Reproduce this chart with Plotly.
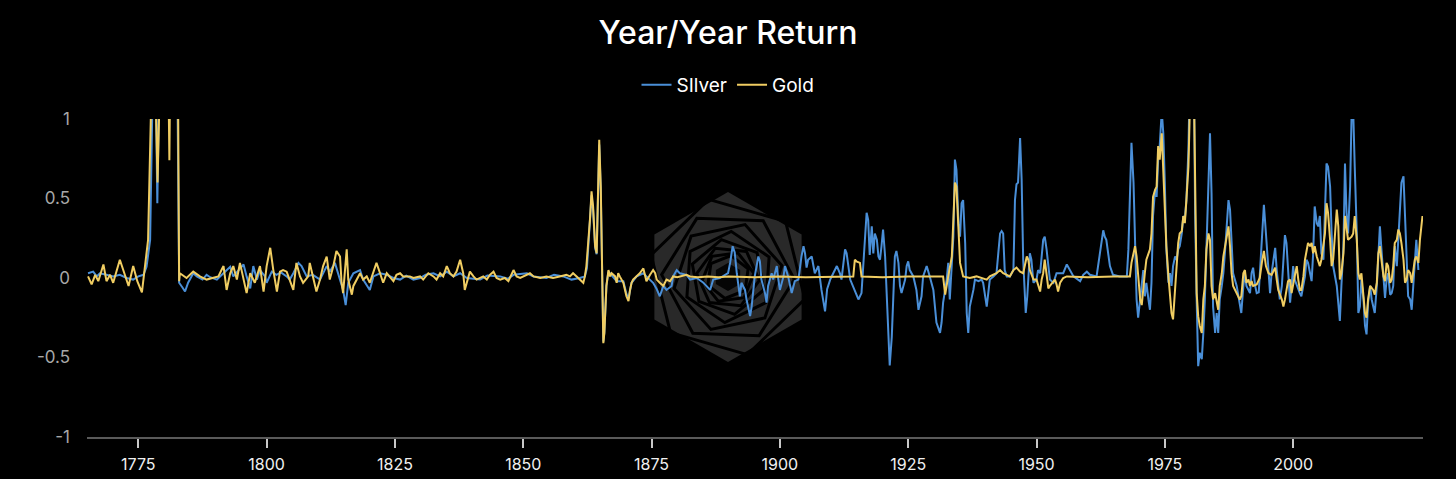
import math
import plotly.graph_objects as go

# ---- data: (year, year-over-year return) ----
silver_pts = [
    (1765.2, 0.03), (1766.2, 0.04), (1766.9, 0.01), (1767.5, 0.03), (1768.8, 0.02), (1770.1, 0.01),
    (1771.4, 0.02), (1772.7, 0.0), (1774.0, -0.01), (1775.0, 0.01), (1776.0, 0.02), (1776.6, 0.07),
    (1777.3, 0.24), (1777.9, 1.1), (1778.2, 2.0), (1778.45, 1.1), (1778.7, 0.47), (1779.0, 1.1),
    (1779.5, 2.0), (1782.4, 2.0), (1782.7, 1.1), (1782.95, -0.03), (1783.6, -0.06), (1784.1, -0.085),
    (1784.7, -0.03), (1785.7, 0.03), (1786.4, 0.01), (1787.5, -0.01), (1788.3, 0.02), (1789.0, 0.005),
    (1790.3, -0.01), (1791.6, 0.03), (1792.9, 0.07), (1793.5, 0.01), (1795.5, 0.085), (1796.1, 0.01),
    (1796.8, -0.065), (1797.4, 0.075), (1798.1, -0.01), (1798.7, 0.05), (1799.7, 0.01), (1800.0, -0.03),
    (1801.0, 0.04), (1801.9, 0.02), (1802.8, 0.035), (1803.9, 0.01), (1804.5, -0.01), (1805.2, 0.03),
    (1806.2, 0.095), (1806.8, 0.075), (1807.8, 0.01), (1809.0, 0.02), (1810.4, -0.01), (1811.7, 0.075),
    (1812.3, 0.04), (1813.3, 0.095), (1814.3, -0.01), (1814.9, -0.075), (1815.4, -0.17), (1815.9, -0.03),
    (1816.9, 0.03), (1818.2, 0.05), (1818.8, -0.01), (1820.1, -0.075), (1820.8, 0.01), (1822.1, 0.03),
    (1823.4, 0.02), (1824.7, 0.0), (1826.0, -0.01), (1827.2, 0.015), (1828.6, -0.01), (1829.9, 0.0),
    (1831.0, 0.02), (1832.5, 0.03), (1833.8, 0.01), (1835.1, 0.04), (1836.4, 0.01), (1837.7, 0.03),
    (1839.0, 0.0), (1841.6, -0.01), (1843.0, 0.015), (1845.5, 0.01), (1847.0, -0.005), (1848.1, 0.02),
    (1850.7, 0.03), (1852.0, 0.01), (1854.5, 0.0), (1856.0, 0.02), (1857.8, 0.01), (1859.4, -0.01),
    (1861.0, 0.0), (1862.0, 0.01), (1862.4, 0.06), (1863.0, 0.35), (1863.3, 0.52), (1863.6, 0.43),
    (1864.0, 0.19), (1864.3, 0.15), (1864.6, 0.55), (1864.8, 0.84), (1865.1, 0.55), (1865.3, 0.04),
    (1865.6, -0.4), (1865.8, -0.34), (1866.2, -0.05), (1866.6, 0.04), (1867.2, 0.02), (1868.2, -0.02),
    (1869.5, -0.02), (1870.1, -0.1), (1870.5, -0.13), (1871.1, -0.03), (1872.1, 0.01), (1873.4, 0.03),
    (1874.0, 0.01), (1875.3, -0.03), (1876.0, -0.07), (1876.6, -0.115), (1877.3, -0.05), (1877.9, -0.075),
    (1878.9, -0.05), (1879.2, 0.01), (1879.9, 0.05), (1880.5, 0.03), (1881.8, 0.02), (1882.5, -0.01),
    (1883.8, 0.0), (1885.1, -0.03), (1886.4, -0.075), (1887.0, -0.01), (1888.3, 0.0), (1889.9, 0.03),
    (1890.3, 0.095), (1890.8, 0.2), (1891.2, 0.16), (1891.6, 0.03), (1892.2, -0.115), (1892.5, -0.03),
    (1893.2, -0.075), (1893.5, -0.135), (1894.2, -0.24), (1894.5, -0.18), (1895.1, 0.01), (1895.8, 0.135),
    (1896.1, 0.105), (1896.4, -0.01), (1897.1, -0.095), (1897.4, -0.155), (1897.7, -0.05), (1898.4, 0.03),
    (1898.7, -0.01), (1899.4, 0.075), (1899.7, -0.01), (1900.0, -0.075), (1900.7, 0.01), (1901.0, 0.075),
    (1901.6, 0.01), (1902.3, -0.095), (1902.9, -0.02), (1903.6, -0.01), (1904.2, 0.135), (1904.6, 0.2),
    (1904.9, 0.155), (1905.2, 0.065), (1905.5, 0.115), (1906.2, 0.135), (1906.8, 0.03), (1907.5, 0.075),
    (1908.1, -0.075), (1908.8, -0.21), (1909.2, -0.07), (1909.8, -0.01), (1910.4, 0.03), (1911.1, 0.075),
    (1911.7, 0.03), (1912.0, -0.01), (1912.7, 0.18), (1913.0, 0.155), (1913.7, -0.01), (1914.6, -0.075),
    (1915.3, -0.135), (1915.9, -0.095), (1916.3, 0.095), (1916.9, 0.41), (1917.2, 0.365), (1917.5, 0.145),
    (1917.9, 0.325), (1918.2, 0.155), (1918.5, 0.28), (1918.9, 0.24), (1919.2, 0.135), (1919.5, 0.115),
    (1919.8, 0.2), (1920.1, 0.305), (1920.5, 0.135), (1920.8, -0.115), (1921.1, -0.41), (1921.4, -0.55),
    (1921.8, -0.37), (1922.1, -0.115), (1922.4, 0.135), (1922.7, 0.17), (1923.1, 0.095), (1923.4, -0.05),
    (1923.7, -0.095), (1924.4, -0.01), (1924.7, 0.075), (1925.0, 0.105), (1925.3, 0.05), (1926.0, 0.01),
    (1926.6, -0.075), (1927.0, -0.2), (1927.6, -0.115), (1927.9, 0.01), (1928.6, 0.075), (1929.2, 0.01),
    (1929.9, -0.075), (1930.5, -0.28), (1931.2, -0.345), (1931.5, -0.28), (1931.8, -0.155), (1932.5, -0.01),
    (1932.8, 0.095), (1933.1, -0.135), (1933.8, 0.26), (1934.1, 0.745), (1934.4, 0.68), (1934.8, 0.345),
    (1935.1, 0.26), (1935.4, 0.47), (1935.7, 0.49), (1936.1, 0.22), (1936.4, -0.22), (1936.7, -0.345),
    (1937.0, -0.18), (1937.7, -0.075), (1938.0, -0.01), (1938.7, -0.02), (1939.3, -0.01), (1939.6, -0.03),
    (1940.0, -0.135), (1940.3, -0.18), (1940.6, -0.095), (1940.9, -0.01), (1941.6, 0.01), (1942.2, 0.03),
    (1942.9, 0.28), (1943.2, 0.295), (1943.5, 0.28), (1943.8, 0.05), (1944.2, 0.01), (1944.8, 0.01),
    (1945.5, 0.05), (1945.8, 0.49), (1946.1, 0.59), (1946.4, 0.6), (1946.8, 0.88), (1947.1, 0.62),
    (1947.4, 0.115), (1947.7, -0.135), (1947.9, -0.22), (1948.2, -0.115), (1948.7, 0.155), (1949.0, 0.115),
    (1949.4, -0.03), (1950.0, -0.01), (1950.3, 0.05), (1950.7, 0.03), (1951.3, 0.24), (1951.6, 0.26),
    (1951.96, 0.18), (1952.6, -0.01), (1953.3, -0.03), (1953.9, 0.03), (1955.2, 0.03), (1955.9, 0.085),
    (1956.5, 0.05), (1957.2, 0.01), (1958.5, -0.02), (1959.1, 0.02), (1959.8, 0.04), (1960.4, 0.02),
    (1961.7, 0.01), (1962.0, 0.075), (1962.4, 0.155), (1963.0, 0.3), (1963.3, 0.26), (1963.6, 0.24),
    (1964.3, 0.075), (1964.9, 0.02), (1966.2, 0.01), (1967.6, 0.01), (1967.9, 0.18), (1968.2, 0.6),
    (1968.5, 0.85), (1968.9, 0.6), (1969.2, 0.18), (1969.5, -0.135), (1969.8, -0.25), (1970.2, -0.135),
    (1970.5, -0.01), (1970.8, 0.05), (1971.1, -0.115), (1971.4, -0.03), (1971.8, -0.135), (1972.1, -0.2),
    (1972.4, -0.03), (1972.7, 0.39), (1973.1, 0.555), (1973.4, 0.51), (1973.7, 0.745), (1974.0, 0.83),
    (1974.4, 1.05), (1974.7, 0.91), (1975.0, 0.6), (1975.3, 0.18), (1975.7, -0.03), (1976.0, 0.03),
    (1976.3, -0.05), (1976.6, 0.075), (1977.0, 0.135), (1977.3, 0.115), (1977.6, 0.18), (1977.9, 0.2),
    (1978.3, 0.28), (1978.6, 0.39), (1978.9, 0.37), (1979.2, 0.49), (1979.6, 0.81), (1979.9, 1.5),
    (1980.3, 2.0), (1980.6, 1.5), (1980.9, 0.4), (1981.2, -0.135), (1981.5, -0.555), (1981.8, -0.47),
    (1982.2, -0.51), (1982.5, -0.345), (1982.8, -0.135), (1983.1, 0.18), (1983.5, 0.535), (1983.8, 0.91),
    (1984.1, 0.535), (1984.4, -0.18), (1984.8, -0.345), (1985.1, -0.22), (1985.4, -0.345), (1985.7, -0.135),
    (1986.1, -0.05), (1986.4, 0.03), (1986.7, 0.155), (1987.0, 0.28), (1987.4, 0.49), (1987.7, 0.43),
    (1988.0, 0.18), (1988.3, 0.03), (1989.0, -0.05), (1989.6, -0.18), (1989.9, -0.22), (1990.3, -0.05),
    (1990.6, 0.03), (1990.9, -0.05), (1991.6, -0.095), (1991.9, 0.03), (1992.2, 0.065), (1992.6, -0.05),
    (1992.9, -0.095), (1993.3, -0.09), (1993.8, 0.2), (1994.3, 0.46), (1994.7, 0.28), (1995.2, 0.03),
    (1995.5, -0.095), (1995.8, 0.03), (1996.1, 0.115), (1996.5, 0.19), (1996.8, 0.05), (1997.1, -0.05),
    (1997.4, -0.135), (1997.8, -0.05), (1998.1, 0.135), (1998.4, 0.27), (1998.7, 0.22), (1999.0, 0.075),
    (1999.4, -0.155), (1999.7, -0.05), (2000.0, 0.075), (2000.3, -0.01), (2000.7, -0.05), (2001.3, -0.095),
    (2001.6, -0.115), (2002.0, -0.03), (2002.3, 0.01), (2002.6, 0.115), (2002.9, 0.095), (2003.3, 0.03),
    (2003.6, -0.02), (2003.9, 0.155), (2004.2, 0.45), (2004.6, 0.345), (2004.9, 0.325), (2005.2, 0.39),
    (2005.5, 0.155), (2005.9, 0.115), (2006.2, 0.39), (2006.5, 0.72), (2006.8, 0.7), (2007.2, 0.575),
    (2007.5, 0.28), (2007.8, 0.075), (2008.5, -0.05), (2009.1, -0.27), (2009.4, -0.05), (2009.8, 0.2),
    (2010.1, 0.72), (2010.4, 0.41), (2010.7, 0.28), (2011.1, 0.575), (2011.4, 1.05), (2011.7, 1.05),
    (2012.0, 0.7), (2012.4, 0.28), (2012.7, -0.22), (2013.0, -0.18), (2013.3, -0.01), (2013.7, -0.135),
    (2014.0, -0.3), (2014.3, -0.355), (2014.6, -0.155), (2015.0, -0.05), (2015.3, -0.135), (2015.6, -0.18),
    (2015.9, -0.22), (2016.3, -0.05), (2016.6, 0.115), (2016.9, 0.325), (2017.2, 0.18), (2017.6, 0.01),
    (2017.9, -0.125), (2018.2, -0.01), (2018.5, 0.03), (2018.9, -0.105), (2019.2, -0.095), (2019.5, -0.05),
    (2019.8, 0.2), (2020.2, 0.075), (2020.5, 0.24), (2020.8, 0.43), (2021.1, 0.6), (2021.5, 0.64),
    (2021.8, 0.39), (2022.1, 0.03), (2022.4, -0.115), (2022.8, -0.135), (2023.1, -0.2), (2023.4, -0.05),
    (2023.7, 0.075), (2024.0, 0.24), (2024.4, 0.05),
]

gold_pts = [
    (1765.2, 0.01), (1765.9, -0.04), (1766.6, 0.02), (1767.2, -0.02), (1768.2, 0.085), (1768.8, -0.02),
    (1769.5, 0.02), (1770.1, -0.03), (1771.4, 0.115), (1772.7, -0.02), (1773.1, -0.05), (1774.0, 0.075),
    (1774.8, -0.02), (1775.7, -0.09), (1776.3, 0.075), (1776.9, 0.24), (1777.5, 1.1), (1777.9, 2.0),
    (1778.4, 1.1), (1778.75, 0.6), (1779.1, 1.1), (1779.6, 2.0), (1780.6, 2.0), (1780.95, 1.1),
    (1781.05, 0.74), (1781.15, 1.1), (1781.6, 2.0), (1782.4, 2.0), (1782.75, 1.1), (1782.95, -0.02),
    (1783.1, 0.03), (1784.4, 0.0), (1785.7, 0.04), (1787.0, 0.01), (1788.3, -0.01), (1789.6, 0.0),
    (1790.6, 0.01), (1791.2, 0.05), (1791.6, 0.075), (1792.2, -0.075), (1792.9, 0.03), (1793.5, 0.075),
    (1794.2, -0.01), (1794.8, 0.095), (1795.5, -0.01), (1796.1, -0.095), (1796.8, 0.03), (1797.7, -0.03),
    (1798.7, 0.075), (1799.4, -0.085), (1800.0, 0.075), (1800.7, 0.19), (1801.3, 0.05), (1802.0, -0.085),
    (1802.6, 0.04), (1803.2, 0.05), (1803.9, 0.04), (1804.5, -0.01), (1805.2, -0.075), (1805.8, 0.095),
    (1806.5, 0.01), (1807.1, -0.03), (1808.1, 0.01), (1808.4, 0.095), (1809.1, -0.01), (1809.7, -0.085),
    (1810.4, -0.01), (1811.0, 0.075), (1811.7, 0.135), (1812.0, 0.04), (1812.3, -0.01), (1813.0, 0.075),
    (1813.6, 0.17), (1814.3, 0.135), (1814.6, -0.03), (1814.9, -0.095), (1815.6, 0.18), (1815.9, -0.01),
    (1816.6, -0.105), (1816.9, -0.05), (1817.5, -0.01), (1818.2, 0.03), (1818.8, -0.01), (1819.5, 0.01),
    (1820.1, -0.03), (1821.4, 0.095), (1822.1, 0.03), (1822.7, -0.03), (1823.4, 0.03), (1824.0, 0.01),
    (1824.7, -0.02), (1825.3, 0.02), (1826.0, 0.03), (1826.6, 0.01), (1827.9, 0.01), (1828.6, 0.0),
    (1829.9, 0.01), (1830.5, -0.01), (1831.5, 0.03), (1832.5, 0.01), (1833.1, -0.01), (1833.8, 0.03),
    (1834.4, 0.01), (1835.1, 0.075), (1835.7, 0.03), (1836.4, 0.01), (1837.0, 0.04), (1837.7, 0.115),
    (1838.3, 0.03), (1838.6, -0.075), (1839.0, -0.03), (1839.6, 0.04), (1840.3, 0.01), (1840.9, -0.01),
    (1842.2, 0.01), (1842.9, -0.01), (1843.5, 0.02), (1844.2, 0.04), (1844.8, 0.0), (1845.5, -0.01),
    (1846.4, 0.0), (1847.1, -0.02), (1848.1, 0.05), (1848.7, 0.01), (1849.4, 0.0), (1850.7, 0.02),
    (1851.3, 0.03), (1852.0, 0.01), (1853.3, 0.0), (1854.5, 0.01), (1855.8, 0.0), (1857.1, 0.01),
    (1858.4, 0.02), (1859.1, 0.01), (1859.7, 0.03), (1860.4, 0.01), (1861.0, -0.01), (1861.7, -0.03),
    (1862.0, 0.01), (1862.3, 0.075), (1863.0, 0.37), (1863.3, 0.545), (1863.6, 0.45), (1864.0, 0.2),
    (1864.3, 0.155), (1864.6, 0.575), (1864.8, 0.87), (1865.1, 0.575), (1865.3, 0.05), (1865.6, -0.41),
    (1865.8, -0.345), (1866.2, -0.05), (1866.6, 0.05), (1866.9, 0.01), (1867.2, 0.03), (1867.9, 0.01),
    (1868.2, -0.03), (1868.5, 0.03), (1868.8, 0.01), (1869.5, -0.03), (1870.1, -0.115), (1870.5, -0.145),
    (1870.8, -0.075), (1871.1, -0.03), (1871.4, -0.01), (1872.1, 0.01), (1872.7, 0.03), (1873.4, 0.06),
    (1873.7, 0.01), (1874.0, -0.02), (1874.7, 0.02), (1875.3, 0.05), (1875.7, 0.03), (1876.0, -0.01),
    (1876.6, -0.03), (1877.3, -0.05), (1877.9, -0.01), (1878.6, -0.02), (1879.2, 0.01), (1880.0, 0.005),
    (1881.8, 0.02), (1882.5, 0.01), (1884.0, 0.005), (1886.0, 0.01), (1888.0, 0.005), (1890.0, 0.01),
    (1895.0, 0.005), (1900.0, 0.01), (1905.0, 0.005), (1910.0, 0.01), (1914.3, 0.01), (1914.6, 0.115),
    (1914.9, 0.105), (1915.6, 0.095), (1915.9, 0.01), (1920.0, 0.005), (1925.0, 0.01), (1931.8, 0.01),
    (1932.2, -0.105), (1932.8, 0.01), (1933.5, 0.135), (1934.1, 0.6), (1934.4, 0.575), (1934.8, 0.305),
    (1935.1, 0.095), (1935.7, 0.01), (1937.0, 0.0), (1938.3, 0.01), (1939.6, 0.0), (1940.3, -0.01),
    (1940.9, 0.01), (1942.2, 0.03), (1942.9, 0.05), (1943.5, 0.03), (1944.2, 0.02), (1944.8, 0.01),
    (1945.5, 0.05), (1946.1, 0.065), (1946.8, 0.04), (1947.4, 0.03), (1948.1, 0.135), (1948.4, 0.115),
    (1948.7, 0.05), (1949.4, -0.01), (1950.0, -0.01), (1950.7, -0.085), (1951.0, -0.01), (1951.3, 0.03),
    (1951.6, 0.115), (1951.96, 0.03), (1952.3, -0.065), (1952.6, -0.05), (1953.3, -0.02), (1953.6, -0.01),
    (1953.9, -0.04), (1954.2, -0.085), (1954.6, -0.03), (1955.2, 0.0), (1955.9, 0.01), (1960.0, 0.005),
    (1965.0, 0.01), (1968.2, 0.01), (1968.5, 0.095), (1968.9, 0.155), (1969.2, 0.2), (1969.5, 0.135),
    (1969.8, 0.03), (1970.2, -0.135), (1970.5, -0.17), (1970.8, -0.05), (1971.1, 0.03), (1971.4, 0.115),
    (1971.8, 0.155), (1972.1, 0.18), (1972.4, 0.28), (1972.7, 0.51), (1973.1, 0.555), (1973.4, 0.575),
    (1973.7, 0.83), (1974.0, 0.745), (1974.4, 0.91), (1974.7, 0.68), (1975.0, 0.49), (1975.3, 0.2),
    (1975.7, 0.01), (1976.0, -0.135), (1976.3, -0.22), (1976.6, -0.26), (1977.0, -0.05), (1977.3, 0.075),
    (1977.6, 0.22), (1977.9, 0.28), (1978.3, 0.295), (1978.6, 0.39), (1978.9, 0.345), (1979.2, 0.49),
    (1979.6, 0.7), (1979.9, 1.1), (1980.3, 2.0), (1980.7, 1.1), (1981.1, 0.28), (1981.2, -0.095),
    (1981.5, -0.24), (1981.8, -0.3), (1982.2, -0.345), (1982.5, -0.135), (1982.8, -0.05), (1983.1, 0.18),
    (1983.5, 0.28), (1983.8, 0.24), (1984.1, -0.05), (1984.4, -0.135), (1984.8, -0.095), (1985.1, -0.155),
    (1985.4, -0.2), (1985.7, -0.05), (1986.1, 0.03), (1986.4, 0.135), (1986.7, 0.2), (1987.0, 0.26),
    (1987.4, 0.325), (1987.7, 0.2), (1988.0, 0.03), (1988.3, -0.05), (1989.0, -0.095), (1989.6, -0.135),
    (1989.9, -0.115), (1990.3, 0.03), (1990.6, 0.05), (1990.9, -0.03), (1991.3, -0.01), (1991.6, -0.05),
    (1991.9, -0.02), (1992.2, -0.05), (1992.9, -0.04), (1993.5, 0.0), (1993.9, 0.095), (1994.3, 0.17),
    (1994.7, 0.075), (1995.2, 0.03), (1995.8, 0.02), (1996.5, 0.065), (1996.8, -0.01), (1997.1, -0.075),
    (1997.8, -0.135), (1998.1, -0.18), (1998.4, -0.135), (1999.0, -0.02), (1999.4, -0.01), (1999.7, -0.095),
    (2000.3, 0.01), (2000.7, 0.075), (2001.0, -0.01), (2001.3, -0.075), (2001.6, -0.075), (2002.0, 0.01),
    (2002.3, 0.115), (2002.9, 0.22), (2003.3, 0.2), (2003.6, 0.22), (2003.9, 0.155), (2004.2, 0.2),
    (2004.6, 0.135), (2005.2, 0.075), (2005.5, 0.115), (2006.2, 0.28), (2006.5, 0.47), (2006.8, 0.41),
    (2007.2, 0.24), (2007.5, 0.075), (2007.8, 0.115), (2008.1, 0.28), (2008.5, 0.43), (2008.8, 0.325),
    (2009.1, -0.01), (2009.4, 0.03), (2009.8, 0.155), (2010.1, 0.39), (2010.4, 0.3), (2010.7, 0.24),
    (2011.4, 0.26), (2011.7, 0.28), (2012.0, 0.39), (2012.4, 0.24), (2012.7, 0.03), (2013.0, -0.01),
    (2013.3, 0.03), (2013.7, -0.095), (2014.0, -0.22), (2014.3, -0.25), (2014.6, -0.135), (2015.0, -0.05),
    (2015.6, -0.075), (2015.9, -0.105), (2016.3, -0.03), (2016.6, 0.155), (2016.9, 0.2), (2017.2, 0.115),
    (2017.6, 0.01), (2017.9, -0.02), (2018.2, 0.095), (2018.5, 0.075), (2018.9, -0.03), (2019.2, -0.01),
    (2019.5, 0.075), (2019.8, 0.22), (2020.2, 0.24), (2020.5, 0.305), (2020.8, 0.28), (2021.1, 0.22),
    (2021.5, 0.115), (2021.8, -0.03), (2022.1, -0.01), (2022.4, 0.05), (2022.8, 0.03), (2023.1, -0.03),
    (2023.4, 0.03), (2023.7, 0.115), (2024.0, 0.135), (2024.4, 0.095), (2024.7, 0.24), (2025.2, 0.39),
]

x_tick_years = [1775, 1800, 1825, 1850, 1875, 1900, 1925, 1950, 1975, 2000]
y_tick_vals = [-1, -0.5, 0, 0.5, 1]
y_tick_text = ["-1", "-0.5", "0", "0.5", "1"]

series_names = ["SIlver", "Gold"]
series_colors = ["#4a8fd8", "#f0cd62"]

# ---- figure ----
W, H = 1456, 479
ML, MR, MT, MB = 87, 33, 119, 42
PW, PH = W - ML - MR, H - MT - MB

fig = go.Figure()
for name, color, pts in zip(series_names, series_colors, [silver_pts, gold_pts]):
    xs, ys = zip(*pts)
    fig.add_trace(go.Scatter(x=list(xs), y=list(ys), mode="lines", name=name,
                             line=dict(color=color, width=2), hoverinfo="skip"))


# decorative watermark (hexagonal logo) in pixel space -> paper coords
def px2paper(px, py):
    return (px - ML) / PW, (H - MB - py) / PH


def hex_path(cx, cy, r, rot_deg):
    pts = []
    for k in range(6):
        a = math.radians(90 + rot_deg + 60 * k)
        pts.append(px2paper(cx + r * math.cos(a), cy - r * math.sin(a)))
    return "M " + " L ".join(f"{x:.5f},{y:.5f}" for x, y in pts) + " Z"


cx, cy = 728, 277
shapes = [dict(type="path", xref="paper", yref="paper", path=hex_path(cx, cy, 85, 0),
               fillcolor="#292929", line=dict(width=0), layer="below")]
r, rot = 80, 14
for i in range(8):
    shapes.append(dict(type="path", xref="paper", yref="paper", path=hex_path(cx, cy, r, rot),
                       fillcolor="rgba(0,0,0,0)", line=dict(color="#000000", width=3), layer="below"))
    r *= 0.83
    rot += 14
shapes.append(dict(type="path", xref="paper", yref="paper", path=hex_path(cx, cy, 14, 0),
                   fillcolor="#050505", line=dict(width=0), layer="below"))

fig.update_layout(
    width=W, height=H,
    paper_bgcolor="#000000", plot_bgcolor="#000000",
    margin=dict(l=ML, r=MR, t=MT, b=MB, autoexpand=False),
    font=dict(family="Inter, Roboto, sans-serif", color="#ffffff"),
    title=dict(text="Year/Year Return", x=0.5, xanchor="center", xref="container",
               y=1 - 33 / H, yanchor="middle", yref="container",
               font=dict(size=32, color="#ffffff", weight=500)),
    legend=dict(orientation="h", x=0.5, xanchor="center", xref="container",
                y=1 - 85 / H, yanchor="middle", yref="container",
                font=dict(size=19, color="#ffffff"), bgcolor="rgba(0,0,0,0)",
                itemclick=False, itemdoubleclick=False),
    showlegend=True,
    shapes=shapes,
    xaxis=dict(range=[1765.0, 2025.3], tickmode="array", tickvals=x_tick_years,
               ticktext=[str(t) for t in x_tick_years],
               showgrid=False, zeroline=False, showline=True, linecolor="#5a5a5a", linewidth=1.5,
               ticks="outside", ticklen=9, tickwidth=1.5, tickcolor="#c8c8c8",
               tickfont=dict(size=16, color="#f0f0f0"), ticklabelstandoff=3, fixedrange=True),
    yaxis=dict(range=[-1, 1], tickmode="array", tickvals=y_tick_vals, ticktext=y_tick_text,
               showgrid=False, zeroline=False, showline=False, ticks="",
               tickfont=dict(size=17, color="#a8a8a8"), ticklabelstandoff=16, fixedrange=True),
)

fig.write_html(
    "out.html",
    include_plotlyjs=True,
    config={"displayModeBar": False},
    post_script="document.body.style.margin='0';document.body.style.background='#000';",
)
